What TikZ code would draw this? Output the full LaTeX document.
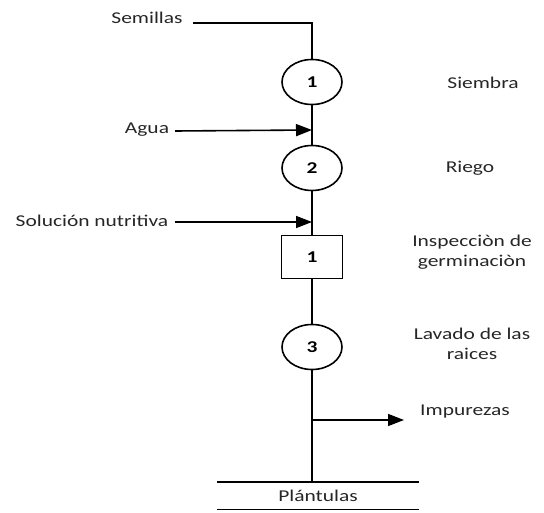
\documentclass[tikz,border=0pt]{standalone}
\usepackage{fontspec}
\setmainfont{Carlito}[FakeStretch=1.3]
\usetikzlibrary{arrows.meta, shapes.geometric, positioning}

\begin{document}
\begin{tikzpicture}[x=1pt, y=-1pt, line width=1.6pt,
    every node/.style={font=\fontsize{16.5}{20}\selectfont, text=black!85},
    oper/.style={draw, ellipse, minimum width=60pt, minimum height=45pt, inner sep=0pt, text=black, font=\fontsize{16.5}{20}\selectfont\bfseries},
    insp/.style={draw, rectangle, minimum width=61pt, minimum height=43pt, inner sep=0pt, text=black, font=\fontsize{16.5}{20}\selectfont\bfseries},
    flecha/.style={-{Triangle[length=16pt, width=12pt]}}]
  \useasboundingbox (0,0) rectangle (544,513);

  % operaciones
  \node[oper] (siembra)  at (312, 82)  {1};
  \node[oper] (riego)    at (312, 168) {2};
  \node[insp] (inspec)   at (312, 257) {1};
  \node[oper] (lavado)   at (312, 347) {3};

  % nombres a la derecha
  \node (tsiembra) at (483, 83)  {Siembra};
  \node (triego)   at (470, 168) {Riego};
  \node[align=center] (tinspec) at (472, 252) {Inspecciòn de\\germinaciòn};
  \node[align=center] (tlavado) at (472, 344) {Lavado de las\\raices};

  % entradas
  \node (semillas) at (147, 18)  {Semillas};
  \node (agua)     at (147, 130) {Agua};
  \node (solucion) at (92, 221)  {Solución nutritiva};
  \coordinate (s0) at (193, 23);
  \coordinate (a1) at (312, 130);
  \coordinate (n1) at (312, 222);

  \draw (s0) -| (siembra);
  \draw[flecha] (agua.east) ++(2,1) -- (a1);
  \draw[flecha] (solucion.east) ++(3,1) -- (n1);

  % linea principal
  \draw (siembra) -- (riego);
  \draw (riego) -- (inspec);
  \draw (inspec) -- (lavado);

  % salida
  \node[minimum width=200pt, minimum height=26pt] (plantulas) at (318, 495.5) {Plántulas};
  \draw (plantulas.north west) -- (plantulas.north east);
  \draw (plantulas.south west) -- (plantulas.south east);
  \draw (lavado) -- (lavado |- plantulas.north);

  \node (impurezas) at (465, 412) {Impurezas};
  \coordinate (i0) at (312, 420);
  \coordinate (i1) at (404, 420);
  \draw[flecha] (i0) -- (i1);
\end{tikzpicture}
\end{document}
